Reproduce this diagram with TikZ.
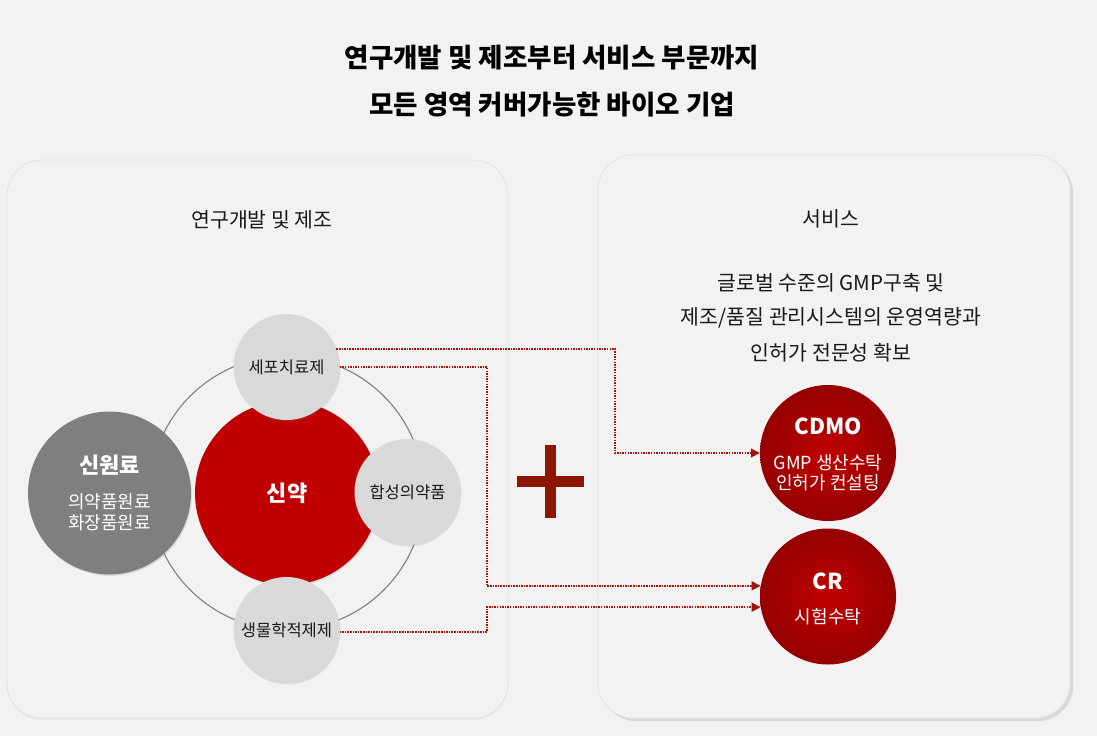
\documentclass[tikz,border=0pt]{standalone}
\usepackage{xcolor}
\usepackage{fontspec}
\setmainfont{Noto Sans CJK KR}
\usetikzlibrary{arrows.meta,shadows,calc}

\definecolor{fundo}{HTML}{F2F2F2}
\definecolor{vermelho}{HTML}{C00000}
\definecolor{vinho}{HTML}{8E1600}
\definecolor{pontilhado}{HTML}{A0140C}
\definecolor{cinza}{HTML}{7F7F7F}
\definecolor{cinzaclaro}{HTML}{D9D9D9}

\begin{document}
\begin{tikzpicture}[x=1pt,y=-1pt,
	painel/.style={fill=fundo,draw=gray!22,line width=.8pt,rounded corners=35pt},
	titulo/.style={font=\fontsize{26.5}{30}\selectfont\bfseries,text=black},
	texto/.style={font=\fontsize{20.5}{24}\selectfont,text=black!90},
	sat/.style={circle,fill=cinzaclaro,minimum size=106pt,inner sep=0pt,
		font=\fontsize{16.5}{19}\selectfont,text=black!90,
		drop shadow={opacity=.18,shadow xshift=1pt,shadow yshift=-1.5pt}},
	servico/.style={circle,minimum size=136pt,inner sep=0pt,
		inner color=vermelho,outer color=vermelho!78!black},
	grande/.style={font=\fontsize{22}{25}\selectfont\bfseries,text=white},
	pequeno/.style={font=\fontsize{18}{21}\selectfont,text=white},
	ligacao/.style={pontilhado,line width=1.6pt,dash pattern=on 1.5pt off 1.1pt,
		-{Triangle[length=9pt,width=9pt]}}]
	
	% Fundo
	\useasboundingbox (0,0) rectangle (1097,736);
	\fill[fundo] (0,0) rectangle (1097,736);
	
	% Titulo
	\node[titulo] (tit1) at (552,58) {연구개발 및 제조부터 서비스 부문까지};
	\node[titulo] (tit2) at (552,105) {모든 영역 커버가능한 바이오 기업};
	
	% Paineis
	\filldraw[painel,drop shadow={opacity=.08,shadow xshift=0pt,shadow yshift=-2pt}] (7,160) rectangle (508,718);
	\filldraw[painel,drop shadow={opacity=.22,shadow xshift=3pt,shadow yshift=-3pt}] (598,155) rectangle (1070,718);
	
	\node[texto] (rd) at (262,220) {연구개발 및 제조};
	\node[texto] (srv) at (831,219) {서비스};
	\node[texto] (l1) at (831,283) {글로벌 수준의 GMP구축 및};
	\node[texto] (l2) at (831,318) {제조/품질 관리시스템의 운영역량과};
	\node[texto] (l3) at (831,353) {인허가 전문성 확보};
	
	%%%%%%%%%%%%%%%%%%%%%%%%%%%%%%%%%%%%%%%%%%%%%%%%%%%%%%%%%%%%%%%%%%%%%%%%%%%%%%
	
	% Anel
	\coordinate (hub) at (287,493);
	\draw[gray,line width=1.1pt] (hub) circle (137pt);
	
	% Circulos
	\node[circle,fill=cinza,minimum size=163pt,inner sep=0pt,
		drop shadow={opacity=.18,shadow xshift=1pt,shadow yshift=-1.5pt}] (raw) at (109.5,493) {};
	\node[grande] at ($(raw)+(0,-28)$) {신원료};
	\node[pequeno] at ($(raw)+(0,9)$) {의약품원료};
	\node[pequeno] at ($(raw)+(0,30)$) {화장품원료};
	
	\node[circle,fill=vermelho,minimum size=184pt,inner sep=0pt,grande,
		drop shadow={opacity=.15,shadow xshift=1pt,shadow yshift=-1.5pt}] (drug) at (hub) {신약};
	
	\node[sat] (cell) at (286.5,367) {세포치료제};
	\node[sat] (chem) at (407.5,492) {합성의약품};
	\node[sat] (bio) at (286.5,630) {생물학적제제};
	
	% Mais
	\fill[vinho] (517,476) rectangle (584,487);
	\fill[vinho] (545,445) rectangle (556,518);
	
	% Servicos
	\node[servico] (cdmo) at (828,453) {};
	\node[grande] at ($(cdmo)+(0,-27)$) {CDMO};
	\node[pequeno] at ($(cdmo)+(0,10)$) {GMP 생산수탁};
	\node[pequeno] at ($(cdmo)+(0,30)$) {인허가 컨설팅};
	
	\node[servico] (cr) at (828,596.5) {};
	\node[grande] at ($(cr)+(0,-15)$) {CR};
	\node[pequeno] at ($(cr)+(0,20)$) {시험수탁};
	
	% Ligacoes
	\coordinate (t1) at (615,0);
	\coordinate (t2) at (487,0);
	\draw[ligacao] (cell.20) -| (t1 |- cdmo.west) -- (cdmo.west);
	\draw[ligacao] (cell.east) -| (t2 |- cr.171) -- (cr.171);
	\draw[ligacao] (bio.-2) -| (t2 |- cr.189) -- (cr.189);
\end{tikzpicture}
\end{document}
